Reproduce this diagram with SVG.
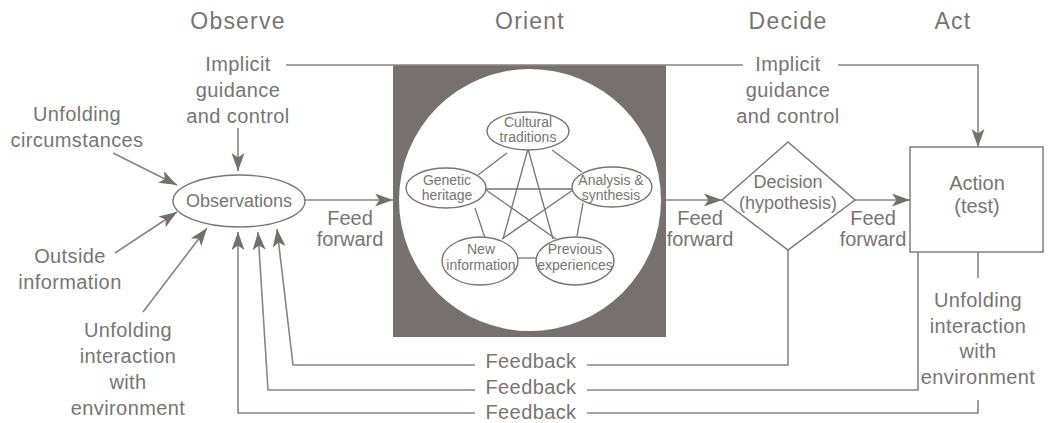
<svg xmlns="http://www.w3.org/2000/svg" width="1051" height="423" viewBox="0 0 1051 423">
<style>
text{font-family:"Liberation Sans",Arial,sans-serif;fill:#7a7473;text-anchor:middle}
.t{font-size:23px;letter-spacing:1.2px}
.l{font-size:20px;letter-spacing:0.4px}
.f{font-size:20px}
.s{font-size:14px}
.ln{fill:none;stroke:#8a8484;stroke-width:1.6}
.sh{fill:#fff;stroke:#7a7473;stroke-width:1.4}
</style>
<defs>
<marker id="ah" markerUnits="userSpaceOnUse" markerWidth="19" markerHeight="14" refX="18" refY="6.5" orient="auto">
<path d="M0,0 L18,6.5 L0,13 L4.5,6.5 z" fill="#746e6d"/>
</marker>
</defs>
<rect width="1051" height="423" fill="#fff"/>

<g id="titles">
<text class="t" x="238" y="29">Observe</text>
<text class="t" x="530" y="29">Orient</text>
<text class="t" x="788" y="29">Decide</text>
<text class="t" x="953" y="29">Act</text>
</g>

<g id="orient">
<rect x="393" y="65" width="273" height="272" fill="#767170"/>
<circle cx="530" cy="200" r="131" fill="#fff"/>
<g class="pent" stroke="#7a7473" stroke-width="1.3" fill="none">
<line x1="552" y1="150" x2="582" y2="172"/>
<line x1="507" y1="153" x2="478" y2="175"/>
<line x1="475" y1="208" x2="485" y2="238"/>
<line x1="518" y1="258" x2="537" y2="258"/>
<line x1="583" y1="203" x2="577" y2="236"/>
<line x1="528" y1="149" x2="503" y2="239"/>
<line x1="528" y1="149" x2="553" y2="239"/>
<line x1="486" y1="189" x2="573" y2="189"/>
<line x1="486" y1="190" x2="556" y2="239"/>
<line x1="573" y1="190" x2="502" y2="239"/>
</g>
<g id="cultural"><ellipse class="sh" cx="528" cy="131" rx="41" ry="19"/><text class="s" x="528" y="127">Cultural</text><text class="s" x="528" y="142">traditions</text></g>
<g id="genetic"><ellipse class="sh" cx="446" cy="188" rx="40" ry="20"/><text class="s" x="447" y="185">Genetic</text><text class="s" x="447" y="200">heritage</text></g>
<g id="analysis"><ellipse class="sh" cx="612" cy="187" rx="40" ry="20"/><text class="s" x="611" y="185">Analysis &amp;</text><text class="s" x="611" y="200">synthesis</text></g>
<g id="newinfo"><ellipse class="sh" cx="480" cy="261" rx="38" ry="24"/><text class="s" x="481" y="254">New</text><text class="s" x="481" y="270">information</text></g>
<g id="previous"><ellipse class="sh" cx="575" cy="261" rx="39" ry="24"/><text class="s" x="575" y="254">Previous</text><text class="s" x="575" y="270">experiences</text></g>
</g>

<g id="connectors">
<path class="ln" d="M286,65 H743 M838,65 H978 V147" marker-end="url(#ah)"/>
<path class="ln" d="M238,128 V171" marker-end="url(#ah)"/>
<path class="ln" d="M113,153 L177,185" marker-end="url(#ah)"/>
<path class="ln" d="M115,253 L177,212" marker-end="url(#ah)"/>
<path class="ln" d="M143,312 L207,228" marker-end="url(#ah)"/>
<path class="ln" d="M305,200 H393" marker-end="url(#ah)"/>
<path class="ln" d="M666,200 H722" marker-end="url(#ah)"/>
<path class="ln" d="M855,200 H910" marker-end="url(#ah)"/>
<path class="ln" d="M978,252 V278"/>
<path class="ln" d="M788,250 V365 H587 M475,365 H293 L277,229" marker-end="url(#ah)"/>
<path class="ln" d="M918,252 V390 H587 M475,390 H268 L258,232" marker-end="url(#ah)"/>
<path class="ln" d="M978,400 V413 H587 M475,413 H238 V232" marker-end="url(#ah)"/>
</g>

<g id="observations">
<ellipse cx="239" cy="201" rx="66" ry="26" fill="#fff" stroke="#7a7473" stroke-width="1.4"/>
<text x="239" y="207" style="font-size:18px">Observations</text>
</g>

<g id="decision">
<polygon points="788,142 855,200 788,250 722,200" fill="#fff" stroke="#7a7473" stroke-width="1.4"/>
<text x="788" y="188" style="font-size:18px">Decision</text>
<text x="788" y="209" style="font-size:18px">(hypothesis)</text>
</g>

<g id="action">
<rect x="910" y="147" width="133" height="105" fill="#fff" stroke="#7a7473" stroke-width="1.4"/>
<text x="977" y="190" style="font-size:20px">Action</text>
<text x="977" y="213" style="font-size:20px">(test)</text>
</g>

<g id="labels">
<text class="l" x="238" y="71">Implicit</text>
<text class="l" x="238" y="97">guidance</text>
<text class="l" x="238" y="123">and control</text>
<text class="l" x="788" y="71">Implicit</text>
<text class="l" x="788" y="97">guidance</text>
<text class="l" x="788" y="123">and control</text>
<text class="l" x="77" y="121">Unfolding</text>
<text class="l" x="77" y="147">circumstances</text>
<text class="l" x="70" y="263">Outside</text>
<text class="l" x="70" y="289">information</text>
<text class="l" x="128" y="337">Unfolding</text>
<text class="l" x="128" y="363">interaction</text>
<text class="l" x="128" y="389">with</text>
<text class="l" x="128" y="415">environment</text>
<text class="f" x="350" y="225">Feed</text>
<text class="f" x="350" y="246">forward</text>
<text class="f" x="700" y="225">Feed</text>
<text class="f" x="700" y="246">forward</text>
<text class="f" x="873" y="225">Feed</text>
<text class="f" x="873" y="246">forward</text>
<text class="l" x="978" y="307">Unfolding</text>
<text class="l" x="978" y="333">interaction</text>
<text class="l" x="978" y="358">with</text>
<text class="l" x="978" y="384">environment</text>
<text class="l" x="531" y="368">Feedback</text>
<text class="l" x="531" y="394">Feedback</text>
<text class="l" x="531" y="419">Feedback</text>
</g>
</svg>
